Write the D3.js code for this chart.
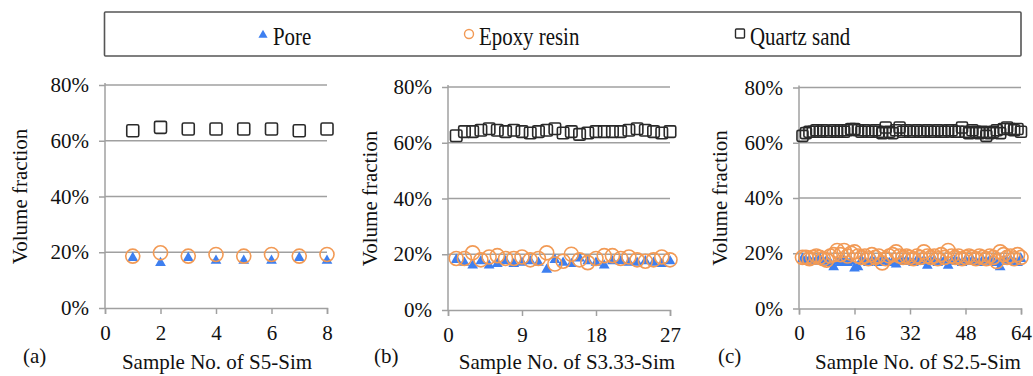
<!DOCTYPE html>
<html>
<head>
<meta charset="utf-8">
<script src="https://cdn.jsdelivr.net/npm/d3@7"></script>
<style>
  html, body { margin: 0; padding: 0; background: #fff; }
  svg { display: block; font-family: "Liberation Serif", "Times New Roman", Times, serif; }
</style>
</head>
<body>
<svg id="chart" width="1033" height="376"></svg>
<script>
// Volume fractions (%) of each phase per simulated sample
const poreA   = [18.0, 16.2, 18.0, 17.0, 17.0, 17.0, 18.0, 17.0];
const epoxyA  = [18.6, 19.8, 18.6, 19.2, 18.6, 19.2, 18.6, 19.2];
const quartzA = [63.6, 64.8, 64.2, 64.2, 64.2, 64.2, 63.6, 64.2];

const poreB   = [18, 17, 16, 17.5, 16, 16.5, 17.5, 16.5, 17, 17.5, 17, 14.5, 18, 17, 16.5, 18.5, 17.5, 17, 16, 17.5, 17.5, 17, 17, 17.5, 17, 16.5, 17.5];
const epoxyB  = [18.5, 18.5, 20.5, 18, 19, 19.5, 18.5, 18.5, 19, 18, 18.5, 20.5, 16.5, 17.5, 20, 18, 17, 18.5, 19.5, 19.5, 18.5, 19, 18, 17.5, 18, 19, 18];
const quartzB = [62.5, 64, 64, 64.5, 65, 64.5, 64, 64.5, 64, 63.5, 64, 64.5, 65, 63.5, 64, 63, 63.5, 64, 64, 64, 64, 64.5, 65, 64.5, 64, 63.5, 64];

const poreC   = [18, 17.5, 17.5, 17, 17.5, 18, 17, 17.5, 16.5, 15, 17, 16.5, 17.5, 16.5, 17, 14.5, 15, 17.5, 17, 16.5, 17.5, 17, 16.5, 17.5, 17, 16.5, 17, 16, 17.5, 17, 17.5, 17, 16.5, 17.5, 17, 17.5, 15.5, 17, 17.5, 16.5, 17, 17.5, 15.5, 17, 17.5, 17, 16.5, 17.5, 17, 17.5, 17, 16.5, 17.5, 17, 17.5, 17, 16.5, 15, 17.5, 17, 17.5, 17, 16.5, 18];
const epoxyC  = [18.5, 18.5, 18, 18.5, 19, 18.5, 18, 17.5, 19, 19.5, 21, 19.5, 21, 19, 20, 20.5, 19, 18.5, 19, 18, 19.5, 18.5, 19, 16.5, 18, 19, 19.5, 20.5, 19, 18.5, 19, 18.5, 18, 19, 18.5, 20.5, 19, 18.5, 19, 18, 19.5, 18.5, 21, 19, 18.5, 19, 18, 18.5, 19, 18.5, 18, 19, 18.5, 18, 19, 18.5, 17, 20.5, 19.5, 18.5, 19, 18, 19.5, 18.5];
const quartzC = [62.5, 63.5, 64, 64, 64.5, 64, 64.5, 64, 64, 64.5, 64, 64.5, 64, 64.5, 65, 65, 64.5, 64, 64.5, 64, 64, 64.5, 64, 63.5, 65.5, 64, 63.5, 64.5, 65.5, 64, 64.5, 64, 64, 64.5, 64, 64, 64.5, 64, 64, 64.5, 64, 64, 64.5, 64.5, 64, 64, 65.5, 64, 63.5, 64.5, 64, 63.5, 64, 62.5, 63.5, 64, 64.5, 63.5, 65, 65.5, 65, 64.5, 65, 64];

// Axis ticks
const yTicks  = [0, 20, 40, 60, 80];
const xTicksA = [0, 2, 4, 6, 8];
const xTicksB = [0, 9, 18, 27];
const xTicksC = [0, 16, 32, 48, 64];

// Series and panel labels
const seriesNames = ["Pore", "Epoxy resin", "Quartz sand"];
const panelTags   = ["(a)", "(b)", "(c)"];
const xTitles     = ["Sample No. of S5-Sim", "Sample No. of S3.33-Sim", "Sample No. of S2.5-Sim"];
const yTitle      = "Volume fraction";

const BLUE = "#3d7ff0", ORANGE = "#f29a55", DARK = "#2a2a2a", GRID = "#a0a0a0", TEXT = "#111";
const FONT = "Liberation Serif, Times New Roman, Times, serif";

const svg = d3.select("#chart");

const panels = [
  { pore: poreA, epoxy: epoxyA, quartz: quartzA, ticks: xTicksA, x0: 105, x1: 327, y0: 308, y1: 85, yTitleX: 20, tagX: 23, titleX: 217, sq: 12, r: 7 },
  { pore: poreB, epoxy: epoxyB, quartz: quartzB, ticks: xTicksB, x0: 448, x1: 670, y0: 310, y1: 87, yTitleX: 370, tagX: 374, titleX: 567, sq: 11.5, r: 7 },
  { pore: poreC, epoxy: epoxyC, quartz: quartzC, ticks: xTicksC, x0: 799, x1: 1021, y0: 308.5, y1: 87.5, yTitleX: 720, tagX: 718, titleX: 918, sq: 11, r: 7 }
];

panels.forEach((p, i) => {
  const xMax = p.ticks[p.ticks.length - 1];
  const x = d3.scaleLinear().domain([0, xMax]).range([p.x0, p.x1]);
  const y = d3.scaleLinear().domain([0, 80]).range([p.y0, p.y1]);
  const g = svg.append("g");

  // horizontal gridlines
  g.append("g").selectAll("line").data(yTicks.slice(1)).join("line")
    .attr("x1", p.x0).attr("x2", p.x1)
    .attr("y1", d => y(d)).attr("y2", d => y(d))
    .attr("stroke", GRID).attr("stroke-width", 1.5);

  // y axis (line reaches a little above the top gridline)
  const yAxis = d3.axisLeft(y).tickValues(yTicks).tickSize(6).tickPadding(10)
    .tickFormat(d => d + "%");
  const ya = g.append("g").attr("transform", `translate(${p.x0},0)`).call(yAxis);
  ya.select(".domain").remove();
  ya.append("line").attr("x1", 0).attr("x2", 0)
    .attr("y1", p.y1 - 2).attr("y2", p.y0)
    .attr("stroke", GRID).attr("stroke-width", 1.5);
  ya.selectAll(".tick line").attr("stroke", GRID).attr("stroke-width", 1.5);
  ya.selectAll(".tick text").attr("font-size", 21).attr("fill", TEXT)
    .attr("font-family", FONT);

  // x axis
  const xAxis = d3.axisBottom(x).tickValues(p.ticks).tickSize(6).tickPadding(11);
  const xa = g.append("g").attr("transform", `translate(0,${p.y0})`).call(xAxis);
  xa.select(".domain").attr("stroke", GRID).attr("stroke-width", 1.5);
  xa.selectAll(".tick line").attr("stroke", GRID).attr("stroke-width", 1.5);
  xa.selectAll(".tick text").attr("font-size", 21).attr("fill", TEXT)
    .attr("font-family", FONT);

  const idx = arr => arr.map((v, k) => ({ n: k + 1, v }));

  // Pore: filled triangles
  const tri = d3.symbol().type(d3.symbolTriangle).size(50);
  g.append("g").selectAll("path").data(idx(p.pore)).join("path")
    .attr("d", tri)
    .attr("transform", d => `translate(${x(d.n)},${y(d.v)})`)
    .attr("fill", BLUE);

  // Epoxy resin: hollow circles
  g.append("g").selectAll("circle").data(idx(p.epoxy)).join("circle")
    .attr("cx", d => x(d.n)).attr("cy", d => y(d.v)).attr("r", p.r)
    .attr("fill", "none").attr("stroke", ORANGE).attr("stroke-width", 1.6);

  // Quartz sand: hollow squares
  g.append("g").selectAll("rect").data(idx(p.quartz)).join("rect")
    .attr("x", d => x(d.n) - p.sq / 2).attr("y", d => y(d.v) - p.sq / 2)
    .attr("width", p.sq).attr("height", p.sq).attr("rx", 1.5)
    .attr("fill", "none").attr("stroke", DARK).attr("stroke-width", 1.6);

  // axis titles and panel tag
  svg.append("text")
    .attr("transform", `translate(${p.yTitleX + 7},${(p.y0 + p.y1) / 2}) rotate(-90)`)
    .attr("text-anchor", "middle").attr("font-size", 21).attr("fill", TEXT)
    .text(yTitle);
  svg.append("text").attr("x", p.titleX).attr("y", 369)
    .attr("text-anchor", "middle").attr("font-size", 21).attr("fill", TEXT)
    .text(xTitles[i]);
  svg.append("text").attr("x", p.tagX).attr("y", 363)
    .attr("font-size", 21).attr("fill", TEXT)
    .text(panelTags[i]);
});

// Legend
const leg = svg.append("g");
leg.append("rect").attr("x", 104.5).attr("y", 12).attr("width", 916.5).attr("height", 44)
  .attr("fill", "#fff").attr("stroke", "#555").attr("stroke-width", 1.6).attr("rx", 1);

const legX = [263, 469, 740];
leg.selectAll("text.item").data(seriesNames).join("text").attr("class", "item")
  .attr("transform", (d, k) => `translate(${legX[k] + 10},45) scale(0.95,1.12)`)
  .attr("font-size", 22).attr("fill", TEXT).text(d => d);

leg.append("path").attr("d", d3.symbol().type(d3.symbolTriangle).size(36))
  .attr("transform", `translate(${legX[0]},35)`).attr("fill", BLUE);
leg.append("circle").attr("cx", legX[1]).attr("cy", 34).attr("r", 4.5)
  .attr("fill", "none").attr("stroke", ORANGE).attr("stroke-width", 1.4);
leg.append("rect").attr("x", legX[2] - 4.5).attr("y", 29).attr("width", 9).attr("height", 9)
  .attr("rx", 1).attr("fill", "none").attr("stroke", DARK).attr("stroke-width", 1.4);
</script>
</body>
</html>
